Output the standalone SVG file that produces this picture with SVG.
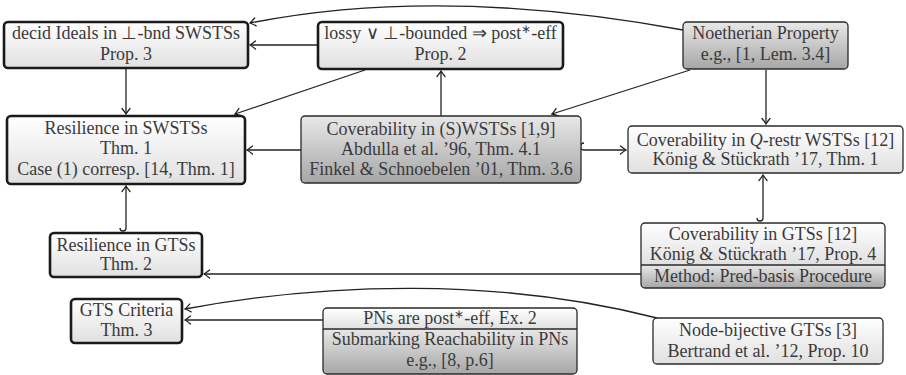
<svg xmlns="http://www.w3.org/2000/svg" width="906" height="375" viewBox="0 0 906 375">
<defs>
<linearGradient id="gl" x1="0" y1="0" x2="0" y2="1"><stop offset="0" stop-color="#ffffff"/><stop offset="1" stop-color="#e0e0e0"/></linearGradient>
<linearGradient id="gg" x1="0" y1="0" x2="0" y2="1"><stop offset="0" stop-color="#e8e8e8"/><stop offset="1" stop-color="#a6a6a6"/></linearGradient>
<marker id="ar" viewBox="-7 -5 9 10" markerWidth="9" markerHeight="10" refX="0" refY="0" orient="auto" markerUnits="userSpaceOnUse" overflow="visible">
<path d="M-5.5,-4 Q-1.5,-0.8 0,0 Q-1.5,0.8 -5.5,4" fill="none" stroke="#222" stroke-width="1.3" stroke-linecap="round"/>
</marker>
</defs>
<style>
.thick{stroke:#1a1a1a;stroke-width:2.6}
.thin{stroke:#2a2a2a;stroke-width:1.3}
.e{fill:none;stroke:#222;stroke-width:1.3}
.a{marker-end:url(#ar)}
text{font-family:"Liberation Serif","Times New Roman",serif;font-size:18px;fill:#3a3a3a;text-anchor:middle}
</style>
<g id="connectors">
<path class="e a" d="M683,30 Q440,-14.5 250,23"/>
<path class="e a" d="M318,45 L250,45"/>
<path class="e a" d="M126,69 L126,114"/>
<path class="e a" d="M365,70 L235,114"/>
<path class="e a" d="M441,116 L441,71"/>
<path class="e a" d="M690,70 L552,114"/>
<path class="e a" d="M301,150 L247,150"/>
<path class="e a" d="M584,143 a3.5,3.5 0 0 0 0,7 L626,150"/>
<path class="e a" d="M766,70 L766,124"/>
<path class="e a" d="M763,218 L763,175"/>
<path class="e" d="M763,218 a3,3 0 0 1 -6,0"/>
<path class="e a" d="M126,228 L126,186"/>
<path class="e" d="M126,228 a3,3 0 0 1 -6,0"/>
<path class="e a" d="M641,274 L204,274"/>
<path class="e a" d="M657,318 C497,277 325,283 185,309"/>
<path class="e a" d="M323,320 L185,320"/>
</g>
<g id="n1">
<rect x="4" y="22" width="244" height="46" rx="4" fill="url(#gl)" class="thick"/>
<text x="126" y="39">decid Ideals in ⊥-bnd SWSTSs</text>
<text x="126" y="60">Prop. 3</text>
</g>
<g id="n2">
<rect x="318" y="22" width="245" height="47" rx="4" fill="url(#gl)" class="thick"/>
<text x="440.5" y="39">lossy ∨ ⊥-bounded ⇒ post<tspan font-size="12" dy="-6">∗</tspan><tspan dy="6">-eff</tspan></text>
<text x="440.5" y="60">Prop. 2</text>
</g>
<g id="n3">
<rect x="683" y="22" width="165" height="47" rx="4" fill="url(#gg)" class="thin"/>
<text x="765.5" y="39">Noetherian Property</text>
<text x="765.5" y="60">e.g., [1, Lem. 3.4]</text>
</g>
<g id="n4">
<rect x="7" y="116" width="238" height="68" rx="4" fill="url(#gl)" class="thick"/>
<text x="126" y="134">Resilience in SWSTSs</text>
<text x="126" y="154">Thm. 1</text>
<text x="126" y="175">Case (1) corresp. [14, Thm. 1]</text>
</g>
<g id="n5">
<rect x="301" y="116" width="280" height="67" rx="4" fill="url(#gg)" class="thin"/>
<text x="441" y="135">Coverability in (S)WSTSs [1,9]</text>
<text x="441" y="155">Abdulla et al. ’96, Thm. 4.1</text>
<text x="441" y="175">Finkel &amp; Schnoebelen ’01, Thm. 3.6</text>
</g>
<g id="n6">
<rect x="628" y="126" width="275" height="47" rx="4" fill="url(#gl)" class="thin"/>
<text x="765.5" y="146">Coverability in <tspan font-style="italic">Q</tspan>-restr WSTSs [12]</text>
<text x="765.5" y="165">König &amp; Stückrath ’17, Thm. 1</text>
</g>
<g id="n7">
<path d="M641,265 V227 Q641,223 645,223 H881 Q885,223 885,227 V265 Z" fill="url(#gl)"/>
<path d="M641,265 H885 V284 Q885,288 881,288 H645 Q641,288 641,284 Z" fill="url(#gg)"/>
<rect x="641" y="223" width="244" height="65" rx="4" fill="none" class="thin"/>
<line x1="641" y1="265" x2="885" y2="265" class="thin"/>
<text x="763" y="240">Coverability in GTSs [12]</text>
<text x="763" y="260">König &amp; Stückrath ’17, Prop. 4</text>
<text x="763" y="282">Method: Pred-basis Procedure</text>
</g>
<g id="n8">
<rect x="50" y="233" width="152" height="44" rx="4" fill="url(#gl)" class="thick"/>
<text x="126" y="251">Resilience in GTSs</text>
<text x="126" y="270">Thm. 2</text>
</g>
<g id="n9">
<rect x="71" y="299" width="111" height="44" rx="4" fill="url(#gl)" class="thick"/>
<text x="126.5" y="316">GTS Criteria</text>
<text x="126.5" y="336">Thm. 3</text>
</g>
<g id="n10">
<path d="M323,329 V312 Q323,308 327,308 H573 Q577,308 577,312 V329 Z" fill="url(#gl)"/>
<path d="M323,329 H577 V370 Q577,374 573,374 H327 Q323,374 323,370 Z" fill="url(#gg)"/>
<rect x="323" y="308" width="254" height="66" rx="4" fill="none" class="thin"/>
<line x1="323" y1="329" x2="577" y2="329" class="thin"/>
<text x="450" y="324">PNs are post<tspan font-size="12" dy="-6">∗</tspan><tspan dy="6">-eff, Ex. 2</tspan></text>
<text x="450" y="345">Submarking Reachability in PNs</text>
<text x="450" y="366">e.g., [8, p.6]</text>
</g>
<g id="n11">
<rect x="653" y="318" width="230" height="46" rx="4" fill="url(#gl)" class="thin"/>
<text x="768" y="336">Node-bijective GTSs [3]</text>
<text x="768" y="357">Bertrand et al. ’12, Prop. 10</text>
</g>
</svg>
